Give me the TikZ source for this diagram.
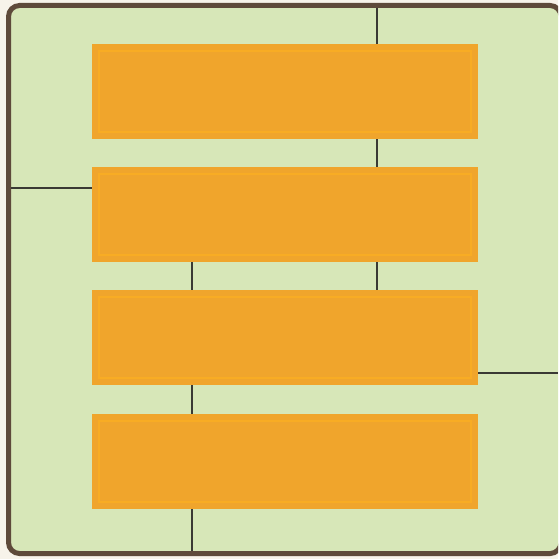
\documentclass[tikz,border=0pt]{standalone}
\definecolor{paper}{HTML}{D7E7B8}
\definecolor{framec}{HTML}{5E4A3A}
\definecolor{boxor}{HTML}{F0A52C}
\definecolor{boxedge}{HTML}{FAAE22}
\definecolor{linec}{HTML}{3A3A34}
\definecolor{outside}{HTML}{F7F3EA}
\begin{document}
\begin{tikzpicture}[x=1pt,y=-1pt,
  box/.style={draw=none, fill=boxor, minimum width=386pt, minimum height=95pt,
    inner sep=0pt, outer sep=0pt, anchor=north west,
    path picture={\draw[boxedge, line width=1.6pt, opacity=0.8]
      ([shift={(7pt,-7pt)}]path picture bounding box.north west) rectangle
      ([shift={(-7pt,7pt)}]path picture bounding box.south east);}},
  link/.style={draw=linec, line width=1.8pt}]
\useasboundingbox (0,0) rectangle (558,559);
\fill[outside] (0,0) rectangle (558,559);
\begin{scope}
  \clip (0,0) rectangle (558,559);
  \draw[draw=framec, line width=5pt, fill=paper, rounded corners=11pt]
    (8.5,5.5) rectangle (561,553.5);
\end{scope}
% boxes
\node[box] (b1) at (92,44) {};
\node[box] (b2) at (92,167) {};
\node[box] (b3) at (92,290) {};
\node[box] (b4) at (92,414) {};
% free ends
\coordinate (ttop) at (377,8);
\coordinate (lft) at (11,188);
\coordinate (xa) at (192,300);
\coordinate (rgt) at (558,373);
\coordinate (bot) at (192,551);
% connectors
\draw[link] (ttop) -- (ttop |- b1.north);
\draw[link] (b1.south -| ttop) -- (b2.north -| ttop);
\draw[link] (lft) -- (lft -| b2.west);
\draw[link] (b2.south -| xa) -- (b3.north -| xa);
\draw[link] (b2.south -| ttop) -- (b3.north -| ttop);
\draw[link] (b3.east |- rgt) -- (rgt);
\draw[link] (b3.south -| xa) -- (b4.north -| xa);
\draw[link] (b4.south -| xa) -- (bot);
\end{tikzpicture}
\end{document}
